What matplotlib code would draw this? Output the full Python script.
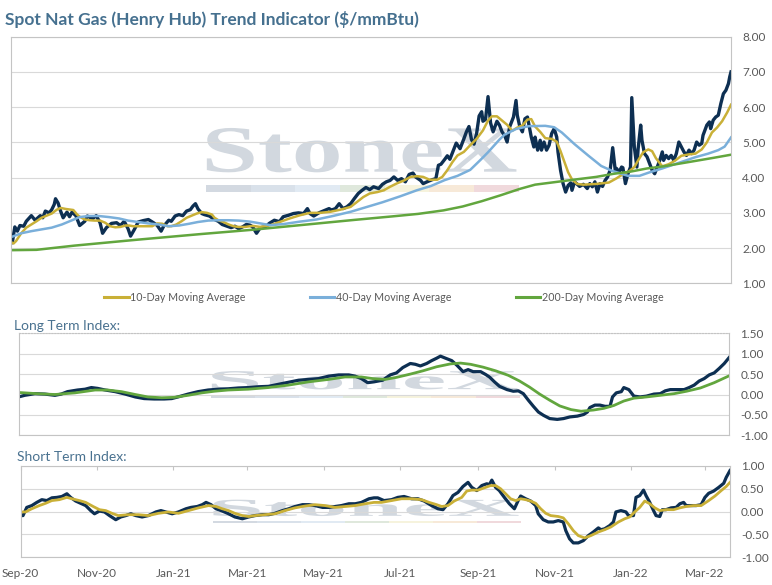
import matplotlib
matplotlib.use("Agg")
import matplotlib.pyplot as plt
import matplotlib.dates as mdates
from matplotlib.textpath import TextPath
from matplotlib.font_manager import FontProperties
from matplotlib.patches import PathPatch, Rectangle
from matplotlib.transforms import Affine2D
from matplotlib.lines import Line2D
import numpy as np
import pandas as pd

plt.rcParams['font.family'] = ['Lato', 'DejaVu Sans']

# ---- data (x = calendar days since 2020-09-01) ----
start_date = "2020-09-01"
end_day = 566

price_days = [0, 1, 3, 5, 7, 10, 12, 16, 19, 23, 25, 27, 30, 32, 34, 35, 37, 39, 41, 44,
              46, 48, 51, 54, 58, 60, 64, 67, 70, 72, 75, 79, 83, 86, 89, 92, 94, 97, 100, 104,
              108, 112, 115, 118, 120, 124, 126, 129, 132, 135, 138, 141, 143, 145, 147, 150, 152, 156, 160, 163,
              166, 170, 173, 176, 179, 182, 185, 188, 190, 193, 196, 200, 203, 207, 211, 214, 218, 222, 226, 230,
              233, 235, 238, 242, 246, 250, 252, 255, 258, 261, 264, 267, 270, 273, 276, 279, 282, 285, 289, 292,
              295, 298, 301, 304, 307, 310, 313, 316, 318, 322, 324, 327, 331, 334, 336, 338, 341, 343, 345, 348,
              350, 353, 356, 358, 360, 362, 364, 366, 368, 370, 371, 373, 375, 377, 379, 382, 384, 386, 388, 390,
              392, 395, 397, 398, 400, 402, 404, 406, 407, 409, 411, 412, 414, 416, 417, 419, 421, 423, 425, 427,
              429, 430, 432, 434, 436, 438, 440, 441, 443, 446, 447, 450, 453, 455, 457, 459, 461, 463, 465, 467,
              469, 471, 473, 475, 476, 478, 480, 481, 483, 485, 487, 488, 490, 492, 493, 495, 496, 498, 500, 502,
              504, 506, 508, 510, 512, 513, 515, 517, 519, 521, 523, 525, 527, 529, 531, 533, 535, 537, 539, 541,
              543, 544, 547, 549, 550, 552, 554, 556, 558, 560, 562, 564, 565, 566]
price = [2.20, 2.15, 2.60, 2.48, 2.64, 2.62, 2.76, 2.92, 2.79, 2.92, 2.86, 3.05, 3.00, 3.09, 3.24, 3.40, 3.28, 3.05, 2.86, 3.02,
         2.89, 3.02, 2.92, 2.64, 2.76, 2.91, 2.83, 2.92, 2.72, 2.42, 2.58, 2.70, 2.72, 2.64, 2.76, 2.55, 2.34, 2.53, 2.74, 2.78,
         2.81, 2.72, 2.64, 2.48, 2.62, 2.79, 2.76, 2.91, 2.95, 2.92, 3.05, 3.09, 3.19, 3.26, 3.11, 2.98, 2.95, 2.91, 2.81, 2.76,
         2.67, 2.62, 2.58, 2.62, 2.55, 2.60, 2.67, 2.65, 2.60, 2.42, 2.58, 2.60, 2.70, 2.79, 2.75, 2.89, 2.93, 2.98, 3.00, 2.98,
         3.12, 2.98, 2.91, 3.00, 3.06, 3.12, 3.08, 3.12, 3.26, 3.12, 3.17, 3.26, 3.41, 3.55, 3.64, 3.72, 3.66, 3.74, 3.69, 3.81,
         3.88, 3.92, 4.02, 3.92, 3.97, 3.88, 4.09, 4.13, 4.02, 3.92, 3.83, 3.88, 3.94, 3.97, 4.35, 4.38, 4.52, 4.62, 4.52, 4.80,
         4.98, 4.82, 5.10, 5.30, 5.45, 5.08, 4.95, 5.25, 5.75, 5.87, 5.60, 5.65, 6.30, 5.55, 5.30, 5.60, 5.49, 5.30, 5.20, 5.01,
         5.44, 5.72, 6.19, 5.77, 5.44, 5.30, 5.67, 5.72, 5.53, 5.15, 4.87, 5.15, 4.78, 5.06, 4.78, 5.01, 4.78, 4.92, 5.25, 5.39,
         5.15, 4.73, 4.21, 3.83, 3.59, 3.78, 3.85, 3.64, 3.88, 3.78, 3.75, 3.81, 3.69, 3.83, 3.74, 3.88, 3.59, 3.83, 3.75, 3.92,
         4.02, 4.21, 4.85, 4.21, 4.26, 4.16, 4.30, 4.28, 3.83, 4.11, 4.30, 6.27, 4.87, 4.30, 4.82, 5.49, 5.06, 4.68, 4.59, 4.40,
         4.21, 4.11, 4.30, 4.49, 4.73, 4.49, 4.63, 4.54, 4.63, 4.49, 4.68, 5.01, 4.87, 4.73, 4.63, 4.78, 4.68, 4.78, 5.01, 4.92,
         4.97, 5.20, 5.49, 5.58, 5.39, 5.63, 5.72, 5.77, 6.10, 6.38, 6.48, 6.67, 6.86, 7.00]

ma10_days = [0, 2, 4, 8, 12, 16, 20, 24, 28, 32, 36, 39, 43, 47, 49, 52, 54, 58, 62, 66,
             70, 74, 78, 82, 86, 90, 93, 96, 100, 105, 111, 115, 119, 123, 126, 130, 134, 138, 142, 146,
             150, 154, 158, 160, 163, 167, 171, 175, 179, 184, 190, 196, 204, 212, 219, 227, 235, 243, 251, 259,
             267, 272, 277, 282, 288, 293, 298, 303, 309, 314, 319, 324, 329, 335, 339, 343, 347, 351, 356, 361,
             366, 371, 375, 378, 382, 386, 390, 394, 398, 402, 406, 409, 412, 416, 420, 425, 429, 432, 435, 438,
             441, 445, 450, 460, 470, 476, 482, 486, 490, 494, 497, 501, 504, 507, 512, 517, 522, 527, 533, 538,
             543, 547, 551, 555, 559, 563, 566]
ma10 = [2.17, 2.13, 2.20, 2.42, 2.58, 2.67, 2.76, 2.86, 2.92, 2.98, 3.09, 3.14, 3.11, 3.09, 3.08, 2.95, 2.89, 2.81, 2.79, 2.78,
        2.78, 2.72, 2.62, 2.59, 2.60, 2.64, 2.64, 2.62, 2.62, 2.62, 2.62, 2.70, 2.69, 2.62, 2.62, 2.67, 2.76, 2.86, 2.92, 2.98,
        3.02, 3.00, 2.95, 2.86, 2.79, 2.74, 2.67, 2.62, 2.60, 2.60, 2.63, 2.60, 2.65, 2.75, 2.84, 2.93, 3.00, 3.00, 3.03, 3.09,
        3.17, 3.31, 3.45, 3.55, 3.59, 3.64, 3.74, 3.83, 3.92, 4.02, 4.04, 4.02, 3.94, 3.94, 4.02, 4.21, 4.44, 4.63, 4.73, 4.92,
        5.10, 5.34, 5.62, 5.74, 5.74, 5.62, 5.50, 5.33, 5.42, 5.48, 5.65, 5.66, 5.45, 5.30, 5.12, 5.10, 5.02, 4.75, 4.45, 4.15,
        3.95, 3.82, 3.80, 3.82, 3.86, 3.98, 4.12, 4.18, 4.30, 4.55, 4.72, 4.80, 4.75, 4.55, 4.32, 4.38, 4.48, 4.62, 4.66, 4.68,
        4.80, 5.00, 5.28, 5.42, 5.60, 5.85, 6.07]

ma40_days = [0, 8, 16, 24, 32, 40, 48, 54, 61, 69, 77, 85, 92, 100, 108, 116, 124, 132, 140, 147,
             155, 163, 171, 179, 188, 196, 204, 214, 227, 240, 253, 267, 280, 292, 306, 319, 330, 341, 351, 361,
             369, 375, 380, 384, 388, 397, 407, 420, 427, 433, 443, 454, 464, 472, 485, 494, 502, 512, 525, 538,
             548, 556, 561, 566]
ma40 = [2.31, 2.42, 2.48, 2.53, 2.58, 2.67, 2.79, 2.88, 2.91, 2.91, 2.88, 2.84, 2.78, 2.74, 2.70, 2.67, 2.62, 2.64, 2.69, 2.74,
        2.78, 2.79, 2.79, 2.78, 2.75, 2.70, 2.65, 2.68, 2.75, 2.81, 2.91, 3.03, 3.17, 3.30, 3.47, 3.64, 3.76, 3.93, 4.05, 4.22,
        4.50, 4.72, 4.92, 5.08, 5.22, 5.38, 5.46, 5.47, 5.43, 5.28, 4.95, 4.62, 4.33, 4.20, 4.05, 4.05, 4.15, 4.26, 4.42, 4.58,
        4.68, 4.78, 4.88, 5.14]

ma200_days = [0, 20, 50, 100, 150, 190, 230, 270, 300, 320, 340, 355, 370, 385, 400, 412, 425, 440, 460, 474,
              487, 500, 513, 526, 539, 552, 566]
ma200 = [1.94, 1.95, 2.07, 2.24, 2.40, 2.52, 2.66, 2.80, 2.90, 2.97, 3.07, 3.18, 3.33, 3.50, 3.68, 3.80, 3.86, 3.93, 4.02, 4.11,
         4.17, 4.26, 4.32, 4.40, 4.48, 4.56, 4.65]

lt_days = [0, 5, 13, 21, 29, 34, 39, 47, 53, 58, 63, 69, 77, 85, 93, 100, 108, 116, 122, 127,
           135, 143, 151, 159, 167, 175, 183, 191, 199, 207, 215, 223, 231, 239, 247, 255, 263, 268, 273, 278,
           283, 290, 296, 301, 306, 312, 316, 320, 325, 329, 333, 336, 340, 345, 349, 354, 358, 362, 368, 372,
           375, 379, 383, 389, 394, 398, 402, 406, 410, 414, 418, 423, 429, 434, 439, 445, 450, 453, 455, 459,
           463, 467, 471, 473, 476, 480, 482, 486, 490, 495, 500, 506, 511, 515, 519, 524, 530, 534, 538, 542,
           546, 550, 554, 558, 562, 566]
lt_index = [-0.06, -0.02, 0.02, 0.01, -0.02, 0.01, 0.07, 0.11, 0.13, 0.17, 0.15, 0.11, 0.07, 0.01, -0.06, -0.10, -0.11, -0.11, -0.10, -0.06,
            0.01, 0.07, 0.11, 0.13, 0.14, 0.16, 0.17, 0.19, 0.20, 0.25, 0.30, 0.35, 0.37, 0.39, 0.45, 0.48, 0.48, 0.45, 0.39, 0.29,
            0.31, 0.35, 0.48, 0.53, 0.66, 0.76, 0.74, 0.70, 0.76, 0.83, 0.89, 0.94, 0.89, 0.83, 0.72, 0.56, 0.61, 0.56, 0.56, 0.49,
            0.43, 0.31, 0.20, 0.12, 0.08, 0.09, 0.02, -0.14, -0.29, -0.43, -0.51, -0.59, -0.61, -0.59, -0.55, -0.53, -0.49, -0.43, -0.32, -0.26,
            -0.26, -0.29, -0.29, -0.06, 0.04, 0.07, 0.17, 0.12, -0.04, -0.06, -0.04, 0.01, 0.02, 0.09, 0.12, 0.12, 0.12, 0.17, 0.23, 0.33,
            0.39, 0.48, 0.53, 0.64, 0.76, 0.91]

lt_sig_days = [0, 15, 29, 45, 61, 71, 82, 93, 103, 114, 124, 135, 146, 156, 167, 183, 199, 215, 231, 247,
               260, 273, 282, 292, 301, 312, 322, 333, 344, 352, 360, 370, 380, 390, 399, 407, 415, 423, 431, 440,
               448, 458, 466, 474, 482, 490, 500, 511, 522, 532, 543, 554, 566]
lt_signal = [0.05, 0.02, 0.00, 0.04, 0.11, 0.11, 0.07, 0.00, -0.06, -0.08, -0.07, -0.02, 0.04, 0.08, 0.11, 0.13, 0.17, 0.23, 0.31, 0.37,
             0.43, 0.43, 0.39, 0.37, 0.42, 0.50, 0.58, 0.68, 0.75, 0.77, 0.74, 0.67, 0.58, 0.47, 0.33, 0.18, 0.01, -0.14, -0.28, -0.37,
             -0.41, -0.38, -0.34, -0.27, -0.16, -0.09, -0.06, -0.02, 0.02, 0.08, 0.16, 0.29, 0.46]

st_days = [0, 2, 5, 9, 13, 17, 21, 25, 29, 33, 37, 40, 44, 48, 52, 56, 59, 63, 67, 71,
           76, 80, 84, 88, 92, 97, 102, 108, 112, 116, 121, 126, 132, 136, 141, 145, 148, 152, 156, 161,
           166, 171, 177, 182, 187, 193, 198, 203, 209, 214, 219, 225, 230, 235, 241, 246, 251, 256, 262, 267,
           272, 278, 282, 285, 290, 296, 301, 306, 312, 317, 322, 328, 333, 337, 341, 345, 349, 353, 357, 360,
           364, 368, 372, 374, 376, 379, 382, 386, 390, 394, 397, 399, 403, 407, 411, 413, 417, 421, 425, 429,
           433, 435, 438, 441, 445, 449, 453, 457, 461, 463, 466, 470, 473, 475, 479, 483, 485, 489, 491, 494,
           497, 499, 502, 505, 507, 510, 512, 515, 519, 523, 526, 529, 531, 535, 539, 543, 546, 549, 553, 557,
           561, 563, 566]
st_index = [-0.09, -0.09, 0.09, 0.13, 0.20, 0.26, 0.24, 0.30, 0.31, 0.33, 0.39, 0.31, 0.23, 0.18, 0.13, 0.02, -0.05, 0.01, -0.01, -0.09,
            -0.18, -0.12, -0.09, -0.05, -0.09, -0.12, -0.09, -0.01, 0.02, -0.01, -0.05, -0.01, 0.06, 0.09, 0.11, 0.15, 0.20, 0.15, 0.06, 0.01,
            -0.05, -0.12, -0.16, -0.12, -0.09, -0.07, -0.07, -0.04, 0.02, 0.06, 0.11, 0.15, 0.15, 0.13, 0.09, 0.09, 0.11, 0.13, 0.17, 0.17,
            0.20, 0.28, 0.30, 0.30, 0.24, 0.26, 0.31, 0.33, 0.28, 0.28, 0.23, 0.13, 0.06, 0.04, 0.17, 0.35, 0.42, 0.55, 0.64, 0.53,
            0.46, 0.57, 0.61, 0.59, 0.69, 0.53, 0.46, 0.31, 0.17, 0.06, 0.24, 0.34, 0.28, 0.23, 0.13, -0.05, -0.18, -0.23, -0.23, -0.20,
            -0.23, -0.42, -0.60, -0.69, -0.69, -0.64, -0.53, -0.45, -0.36, -0.40, -0.38, -0.31, -0.23, -0.01, 0.02, -0.01, -0.09, -0.09, 0.31, 0.35,
            0.47, 0.35, 0.20, 0.02, -0.09, -0.11, 0.04, 0.04, 0.08, 0.09, 0.17, 0.20, 0.13, 0.13, 0.13, 0.15, 0.31, 0.40, 0.45, 0.53,
            0.62, 0.75, 0.90]

st_sig_days = [0, 4, 9, 15, 20, 25, 31, 37, 41, 47, 52, 58, 63, 68, 73, 78, 86, 94, 102, 110,
               118, 126, 134, 142, 150, 156, 161, 166, 171, 177, 182, 187, 195, 203, 211, 219, 227, 235, 243, 251,
               259, 267, 275, 282, 288, 296, 304, 312, 320, 326, 332, 336, 341, 346, 352, 356, 360, 365, 370, 375,
               379, 383, 387, 391, 395, 399, 403, 407, 411, 415, 419, 423, 429, 433, 437, 441, 445, 450, 455, 461,
               466, 471, 477, 482, 486, 490, 494, 498, 502, 506, 510, 515, 521, 526, 531, 537, 543, 549, 554, 559,
               563, 566]
st_signal = [-0.01, -0.01, 0.06, 0.13, 0.18, 0.24, 0.26, 0.31, 0.28, 0.24, 0.20, 0.11, 0.04, 0.02, -0.04, -0.09, -0.07, -0.07, -0.09, -0.04,
             -0.01, -0.04, 0.02, 0.08, 0.13, 0.11, 0.06, 0.02, -0.04, -0.09, -0.11, -0.09, -0.07, -0.05, 0.02, 0.08, 0.12, 0.15, 0.13, 0.09,
             0.11, 0.13, 0.17, 0.20, 0.20, 0.24, 0.28, 0.28, 0.26, 0.20, 0.15, 0.11, 0.13, 0.23, 0.31, 0.45, 0.47, 0.47, 0.52, 0.57,
             0.57, 0.50, 0.39, 0.28, 0.24, 0.28, 0.26, 0.23, 0.18, 0.06, -0.04, -0.09, -0.11, -0.14, -0.27, -0.42, -0.53, -0.58, -0.53, -0.45,
             -0.40, -0.34, -0.23, -0.16, -0.12, -0.01, 0.09, 0.23, 0.17, 0.08, 0.02, 0.04, 0.04, 0.08, 0.11, 0.13, 0.13, 0.24, 0.34, 0.46,
             0.55, 0.64]

legend_labels = ["10-Day Moving Average", "40-Day Moving Average", "200-Day Moving Average"]
title = "Spot Nat Gas (Henry Hub) Trend Indicator ($/mmBtu)"

# ---- styles ----
NAVY = "#0d2f52"
GOLD = "#c9b037"
BLUE = "#7aafda"
GREEN = "#62a63e"
GRID = "#d9d9d9"
BORDER = "#c4c4c4"
TXT = "#595959"

t0 = pd.Timestamp(start_date)
def to_dates(days):
    return t0 + pd.to_timedelta(np.asarray(days), unit="D")

x0 = t0
x1 = t0 + pd.Timedelta(days=end_day)


def watermark(ax):
    tp = TextPath((0, 0), "StoneX", size=1,
                  prop=FontProperties(family="Liberation Serif", weight="bold"))
    bb = tp.get_extents()
    left, right, low, high = 0.272, 0.702, 0.45, 0.63
    tr = (Affine2D().translate(-bb.x0, -bb.y0)
          .scale((right - left) / bb.width, (high - low) / bb.height)
          .translate(left, low) + ax.transAxes)
    ax.add_patch(PathPatch(tp, transform=tr, fc="#d2d8df", ec="none", zorder=0.2))
    seg = ["#d3d9e1", "#d9e1ea", "#e1eaf3", "#dfe8dc", "#f6f3dd", "#f7e9d8", "#f0d9dc"]
    w = (0.705 - 0.271) / len(seg)
    for i, c in enumerate(seg):
        ax.add_patch(Rectangle((0.271 + i * w, 0.369), w, 0.03, transform=ax.transAxes,
                               fc=c, ec="none", zorder=0.2))


def style(ax, lo, hi, step):
    ax.set_xlim(x0, x1)
    ax.set_ylim(lo, hi)
    ax.set_yticks(np.arange(lo, hi + step / 2, step))
    ax.yaxis.set_major_formatter(plt.FormatStrFormatter("%.2f"))
    ax.yaxis.tick_right()
    ax.tick_params(axis="y", length=0, pad=8, labelsize=8.5, labelcolor=TXT)
    ax.grid(axis="y", color=GRID, lw=0.8)
    ax.set_axisbelow(True)
    for s in ax.spines.values():
        s.set_color(BORDER)
        s.set_linewidth(0.8)
    watermark(ax)


fig = plt.figure(figsize=(7.72, 5.85), dpi=100)

# main price panel
ax1 = fig.add_axes([11 / 772, 1 - 283.3 / 585, 720 / 772, 246.6 / 585])
style(ax1, 1, 8, 1)
ax1.set_xticks([])
ax1.plot(to_dates(price_days), price, color=NAVY, lw=2.4, solid_joinstyle="round")
ax1.plot(to_dates(ma10_days), ma10, color=GOLD, lw=1.8)
ax1.plot(to_dates(ma40_days), ma40, color=BLUE, lw=1.8)
ax1.plot(to_dates(ma200_days), ma200, color=GREEN, lw=1.8)

handles = [Line2D([], [], color=c, lw=2.2) for c in (GOLD, BLUE, GREEN)]
fig.legend(handles, legend_labels, loc="center", ncol=3, frameon=False,
           bbox_to_anchor=(0.497, 1 - 297.5 / 585), fontsize=7.7, labelcolor=TXT,
           handlelength=2.3, handletextpad=0.15, columnspacing=6.0)

fig.text(5 / 772, 1 - 25 / 585, title, fontsize=12.5, fontweight="bold",
         color="#45708f", va="baseline", ha="left")

# long term index
ax2 = fig.add_axes([18.5 / 772, 1 - 435.3 / 585, 710.8 / 772, 102 / 585])
style(ax2, -1, 1.5, 0.5)
ax2.set_xticks([])
ax2.spines["top"].set_linestyle(":")
ax2.plot(to_dates(lt_days), lt_index, color=NAVY, lw=2.3)
ax2.plot(to_dates(lt_sig_days), lt_signal, color=GREEN, lw=2.0)
fig.text(14 / 772, 1 - 329.5 / 585, "Long Term Index:", fontsize=10,
         color="#4a7290", va="baseline", ha="left")

# short term index
ax3 = fig.add_axes([20.5 / 772, 1 - 557 / 585, 709.5 / 772, 91 / 585])
style(ax3, -1, 1, 0.5)
ax3.plot(to_dates(st_days), st_index, color=NAVY, lw=2.3)
ax3.plot(to_dates(st_sig_days), st_signal, color=GOLD, lw=2.0)
ax3.xaxis.set_major_locator(mdates.MonthLocator(bymonth=[1, 3, 5, 7, 9, 11]))
ax3.xaxis.set_major_formatter(mdates.DateFormatter("%b-%y"))
ax3.tick_params(axis="x", bottom=False, top=True, direction="in", length=3,
                color=BORDER, labelsize=8.5, labelcolor=TXT, pad=8)
fig.text(17.3 / 772, 1 - 461 / 585, "Short Term Index:", fontsize=10,
         color="#4a7290", va="baseline", ha="left")

fig.savefig("out.png", dpi=100)
